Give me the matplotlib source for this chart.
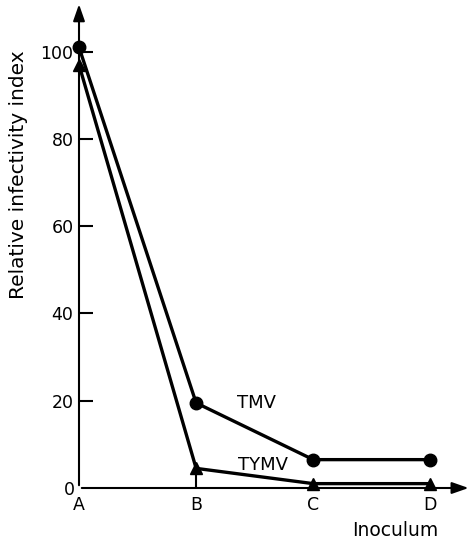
import matplotlib
matplotlib.use("Agg")
import matplotlib.pyplot as plt

categories = ["A", "B", "C", "D"]
tmv = [101, 19.5, 6.5, 6.5]
tymv = [97, 4.5, 1.0, 1.0]
yticks = [20, 40, 60, 80, 100]

plt.rcParams['font.family'] = ['DejaVu Sans']

W, H = 468, 541
fig = plt.figure(figsize=(W/100, H/100), dpi=100)
left, right, bottom, top = 79, 462, 488, 8
ax = fig.add_axes([left/W, (H-bottom)/H, (right-left)/W, (bottom-top)/H])

x = list(range(len(categories)))
ax.set_xlim(0, 3.27)
ax.set_ylim(0, 110)
for s in ax.spines.values():
    s.set_visible(False)

lw = 2.4
# axes with arrows
ax.annotate("", xy=(0, 111.5), xytext=(0, 0), xycoords='data',
            arrowprops=dict(arrowstyle="-|>,head_length=1.0,head_width=0.35", color="black", lw=1.5),
            annotation_clip=False)
ax.annotate("", xy=(3.35, 0), xytext=(0, 0), xycoords='data',
            arrowprops=dict(arrowstyle="-|>,head_length=1.0,head_width=0.35", color="black", lw=1.5),
            annotation_clip=False)

ax.plot(x, tmv, color="black", lw=lw, marker="o", markersize=9, clip_on=False, zorder=3)
ax.plot(x, tymv, color="black", lw=lw, marker="^", markersize=8, clip_on=False, zorder=3)
ax.vlines(x[1], 0, tymv[1], color="black", lw=1.5)

ax.set_yticks(yticks)
ax.set_yticklabels([str(v) for v in yticks])
ax.tick_params(axis='y', direction='in', length=10, width=1.5, labelsize=12.5, pad=4)
ax.set_xticks(x)
ax.set_xticklabels(categories)
ax.tick_params(axis='x', length=0, labelsize=12.5, pad=6)
ax.text(-0.035, -0.5, "0", ha="right", va="center", fontsize=12.5)

ax.text(1.35, 18.4, "TMV", fontsize=13, ha="left", va="baseline")
ax.text(1.36, 4.1, "TYMV", fontsize=13, ha="left", va="baseline")

fig.text(395/W, (H-531)/H, "Inoculum", fontsize=13.5, ha="center", va="center")
fig.text(19/W, (H-175)/H, "Relative infectivity index", fontsize=14.5,
         rotation=90, ha="center", va="center")

fig.savefig("out.png", dpi=100)
